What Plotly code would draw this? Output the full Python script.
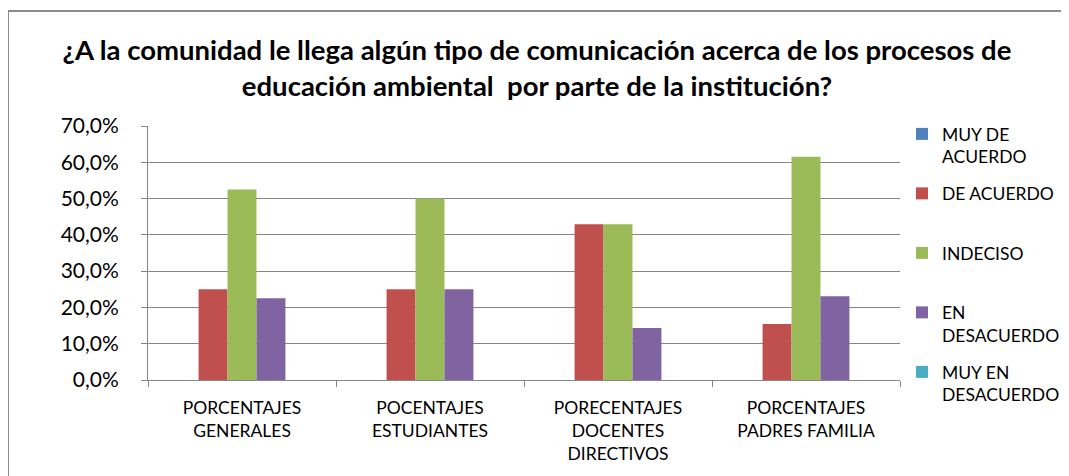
import plotly.graph_objects as go

categories = ["PORCENTAJES<br>GENERALES", "POCENTAJES<br>ESTUDIANTES",
              "PORECENTAJES<br>DOCENTES<br>DIRECTIVOS", "PORCENTAJES<br>PADRES FAMILIA"]
series_names = ["MUY DE<br>ACUERDO", "DE ACUERDO<br> ", "INDECISO<br> ",
                "EN<br>DESACUERDO", "MUY EN<br>DESACUERDO"]
muy_de_acuerdo = [0.0, 0.0, 0.0, 0.0]
de_acuerdo = [0.25, 0.25, 0.429, 0.154]
indeciso = [0.525, 0.50, 0.429, 0.615]
en_desacuerdo = [0.225, 0.25, 0.143, 0.231]
muy_en_desacuerdo = [0.0, 0.0, 0.0, 0.0]
colors = ["#4F81BD", "#C0504D", "#9BBB59", "#8064A2", "#4BACC6"]
y_ticks = [0, 0.1, 0.2, 0.3, 0.4, 0.5, 0.6, 0.7]

values = [muy_de_acuerdo, de_acuerdo, indeciso, en_desacuerdo, muy_en_desacuerdo]

fig = go.Figure()
for i, (name, vals) in enumerate(zip(series_names, values)):
    fig.add_trace(go.Bar(x=categories, y=vals, name=name, marker_color=colors[i],
                         marker_line_width=0, legendgroup=str(i)))

OFF = 8  # page body margin
W, H = 1069 - OFF, 476 - OFF
# plot area in screen pixels
SL, SR, ST, SB = 148, 900, 126, 380
L, R, T, B = SL - OFF, SR - OFF, ST - OFF, SB - OFF
pw, ph = R - L, B - T

def px(x):  # screen px -> paper
    return (x - SL) / pw

def py(y):
    return (SB - y) / ph

fig.update_layout(
    width=W, height=H,
    margin=dict(l=L, r=W - R, t=T, b=H - B, autoexpand=False),
    paper_bgcolor="white", plot_bgcolor="white",
    separators=",.",
    barmode="group", bargap=0.23, bargroupgap=0,
    font=dict(family="Lato, Open Sans, sans-serif", color="#000000"),
    title=dict(text="¿A la comunidad le llega algún tipo de comunicación acerca de los procesos de<br>educación ambiental  por parte de la institución?",
               x=(537 - OFF) / W, xref="container", xanchor="center",
               y=1 - (60 - OFF) / H, yref="container", yanchor="middle",
               font=dict(size=27.5, family="Lato, Open Sans, sans-serif", weight="bold", color="#000000")),
    legend=dict(x=px(902), y=py(116), xanchor="left", yanchor="top",
                font=dict(size=17.5), valign="top", tracegroupgap=11,
                itemwidth=30, bgcolor="rgba(0,0,0,0)", maxheight=440),
    showlegend=True,
)
fig.update_xaxes(showline=True, linecolor="#868686", linewidth=1,
                 ticks="outside", tickson="boundaries", ticklen=6, tickcolor="#868686",
                 tickfont=dict(size=17.5), showgrid=False, ticklabelstandoff=12)
fig.update_yaxes(range=[0, 0.7], tickvals=y_ticks, tickformat=".1%",
                 showline=True, linecolor="#868686", linewidth=1,
                 ticks="outside", ticklen=6, tickcolor="#868686",
                 showgrid=True, gridcolor="#868686", gridwidth=1,
                 tickfont=dict(size=21), zeroline=False, ticklabelstandoff=18)
fig.add_shape(type="rect", xref="paper", yref="paper",
              x0=px(8), x1=px(1100), y0=py(500), y1=py(11),
              line=dict(color="#8c8c8c", width=2), fillcolor="rgba(0,0,0,0)", layer="below")

fig.write_html("out.html")
